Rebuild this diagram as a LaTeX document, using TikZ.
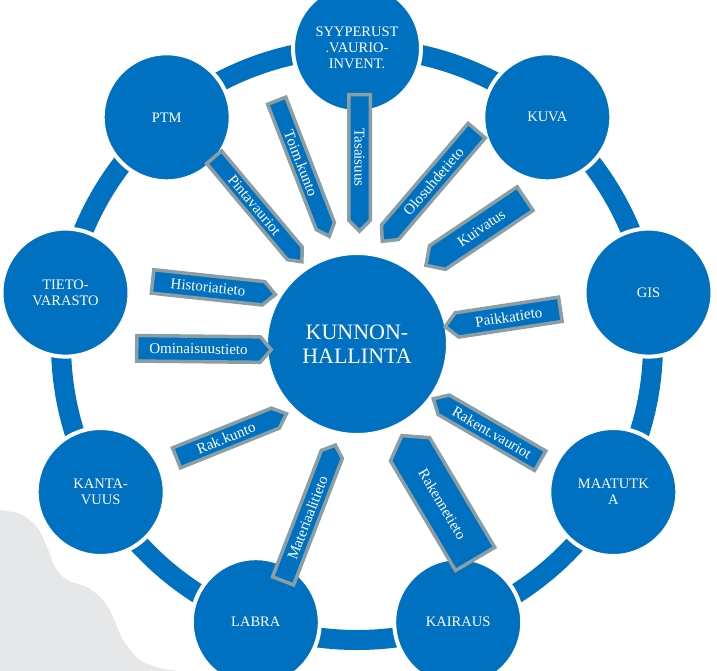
\documentclass[tikz,border=0pt]{standalone}
\usepackage{fontspec}
\setmainfont{Liberation Serif}
\definecolor{mblue}{RGB}{0,112,192}
\definecolor{mgray}{RGB}{138,158,163}
\definecolor{blobgray}{RGB}{230,231,232}
\tikzset{
  ringnode/.style={circle, fill=mblue, draw=white, line width=4pt, minimum size=128pt, inner sep=0pt,
    text=white, align=center, font=\fontsize{14.5}{16}\selectfont},
  hubnode/.style={circle, fill=mblue, draw=white, line width=4pt, minimum size=182pt, inner sep=0pt,
    text=white, align=center, font=\fontsize{22}{24}\selectfont},
  arrowbox/.style={fill=mblue, draw=mgray, line width=3.5pt, line join=miter},
  arrowtext/.style={text=white, inner sep=0pt, font=\fontsize{15}{16}\selectfont},
  ringband/.style={draw=mblue, line width=20pt},
}
\newcommand\infoarrow[9]{%
  \begin{scope}[shift={(#2,#3)}, rotate=#4]
    \pgfmathsetmacro\aR{(#8)*(#5/2-1.75)}
    \pgfmathsetmacro\aB{-(#8)*(#5/2-1.75)}
    \pgfmathsetmacro\aS{(#8)*(#5/2-1.75-#7)}
    \pgfmathsetmacro\aW{#6/2-1.75}
    \pgfmathsetmacro\aN{-(#6/2-1.75)}
    \pgfmathsetmacro\aT{-(#8)*#7/2}
    \draw[arrowbox] (\aB,\aN) -- (\aS,\aN) -- (\aR,0) -- (\aS,\aW) -- (\aB,\aW) -- cycle;
    \node[arrowtext, rotate=#4] (#1) at (\aT,0) {#9};
  \end{scope}}
\begin{document}
\begin{tikzpicture}[x=1pt, y=-1pt]
  \path[use as bounding box] (0,0) rectangle (717,671);
  \clip (0,0) rectangle (717,671);
  % background blob
  \fill[blobgray] plot[smooth] coordinates {(-5,509) (0,510) (20,514) (37,527) (47,547) (55,567) (67,580) (87,587) (103,600) (113,617) (123,640) (140,660) (160,668) (177,671) (185,676)} -- (-5,676) -- cycle;
  % ring band
  \coordinate (ringc) at (357,344);
  \draw[ringband] (ringc) circle[radius=296pt];
  % ring circles
  \node[ringnode] (syy) at (357,48) {SYYPERUST\\.VAURIO-\\INVENT.};
  \node[ringnode] (kuva) at (547.3,117.3) {KUVA};
  \node[ringnode] (gis) at (648.5,292.6) {GIS};
  \node[ringnode] (maa) at (613.3,492) {MAATUTK\\A};
  \node[ringnode] (kai) at (458.2,622.2) {KAIRAUS};
  \node[ringnode] (lab) at (255.8,622.2) {LABRA};
  \node[ringnode] (kan) at (100.7,492) {KANTA-\\VUUS};
  \node[ringnode] (tie) at (65.5,292.6) {TIETO-\\VARASTO};
  \node[ringnode] (ptm) at (166.7,117.3) {PTM};
  % hub
  \node[hubnode] (hub) at (357,344) {KUNNON-\\HALLINTA};
  % arrows
  \infoarrow{tas}{359.5}{163}{-90}{140}{25}{11}{1}{Tasaisuus}
  \infoarrow{toim}{303}{168.5}{-68.8}{149}{23}{11}{1}{Toim.kunto}
  \infoarrow{pinta}{258}{209.5}{-50}{140}{23}{11}{1}{Pintavauriot}
  \infoarrow{olo}{429.5}{186}{49.5}{149}{26}{12}{-1}{Olosuhdetieto}
  \infoarrow{kuiv}{475.5}{232}{33.9}{123}{32}{14}{-1}{Kuivatus}
  \infoarrow{paikka}{502.75}{318}{8.6}{120}{28}{12}{-1}{Paikkatieto}
  \infoarrow{rvaur}{486.75}{429.75}{-30.1}{127}{26}{12}{-1}{Rakent.vauriot}
  \infoarrow{rkunto}{231.5}{435.75}{21.9}{122}{25}{12}{1}{Rak.kunto}
  \infoarrow{mater}{309.25}{513}{68.9}{149}{26}{10}{1}{Materiaalitieto}
  \infoarrow{raken}{438.5}{497.25}{-59.3}{147}{49}{16}{-1}{Rakennetieto}
  \infoarrow{hist}{214}{288}{-6.1}{127}{27}{12}{1}{Historiatieto}
  \infoarrow{omin}{204}{349}{-0.6}{138}{29}{11}{1}{Ominaisuustieto}
\end{tikzpicture}
\end{document}
